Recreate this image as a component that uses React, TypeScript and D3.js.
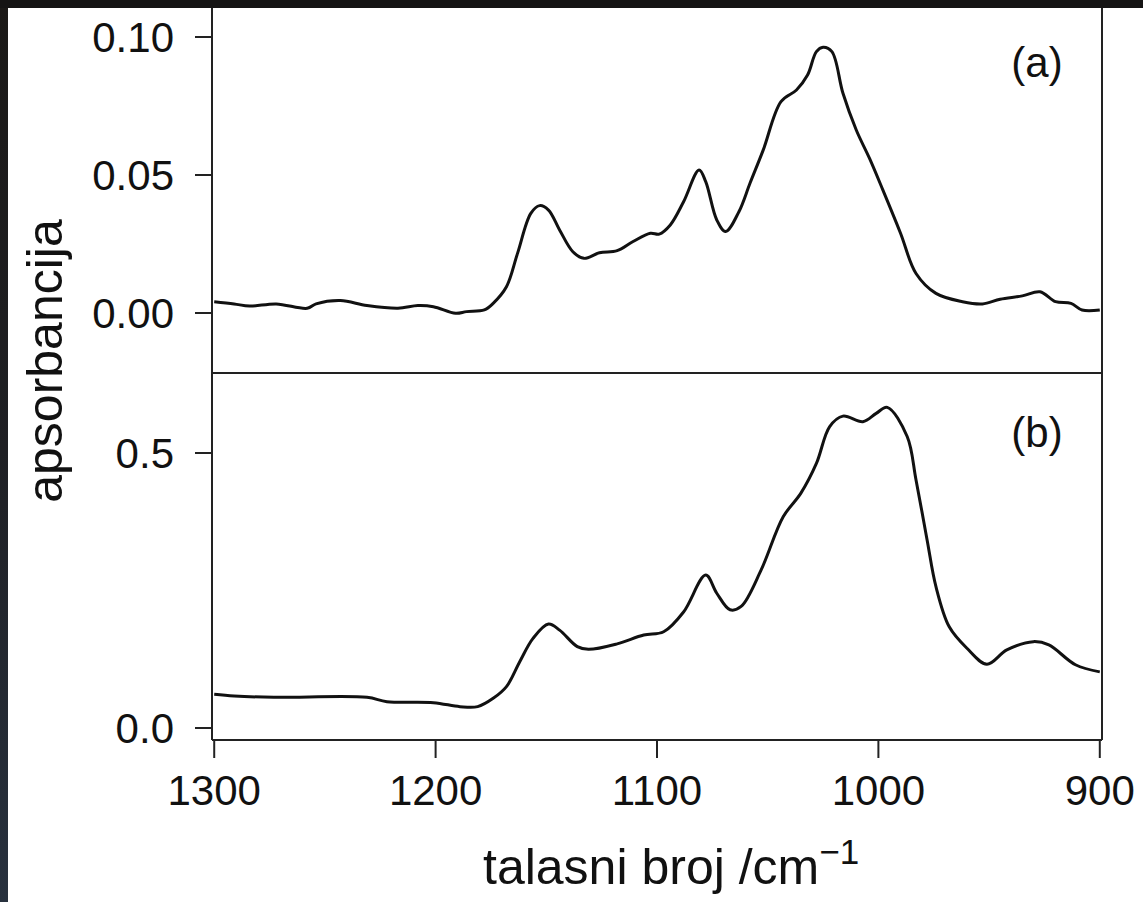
import React from "react";
import * as d3 from "d3";

const waveA = [1300, 1291, 1284, 1272, 1258, 1254, 1243, 1231, 1217, 1208, 1201, 1191, 1186, 1178, 1174, 1168, 1163, 1157, 1153, 1149, 1144, 1138, 1133, 1126, 1118, 1111, 1103, 1099, 1094, 1088, 1081, 1078, 1073, 1069, 1063, 1058, 1052, 1044, 1037, 1032, 1028, 1025, 1021, 1016, 1010, 1004, 998, 990, 983, 974, 962, 953, 945, 935, 927, 920, 913, 908, 900];
const absA = [0.0041, 0.0033, 0.0025, 0.0033, 0.0017, 0.0033, 0.0045, 0.0027, 0.0017, 0.0027, 0.0023, -0.0001, 0.0005, 0.0011, 0.0035, 0.0095, 0.0216, 0.0361, 0.0389, 0.0373, 0.0301, 0.0222, 0.0198, 0.0218, 0.0226, 0.0258, 0.0289, 0.0286, 0.0319, 0.0403, 0.0518, 0.0476, 0.0337, 0.0295, 0.0367, 0.047, 0.0591, 0.0766, 0.0808, 0.0862, 0.0947, 0.0963, 0.0947, 0.0796, 0.0663, 0.056, 0.0446, 0.0289, 0.0143, 0.0071, 0.0041, 0.0033, 0.005, 0.0062, 0.0077, 0.0041, 0.0035, 0.0011, 0.0011];

const waveB = [1300, 1291, 1273, 1231, 1222, 1201, 1189, 1181, 1174, 1168, 1162, 1156, 1149, 1144, 1136, 1131, 1118, 1106, 1097, 1088, 1078, 1073, 1067, 1062, 1053, 1043, 1035, 1028, 1022, 1016, 1007, 1001, 996, 987, 983, 978, 974, 968, 960, 951, 942, 930, 923, 911, 900];
const absB = [0.0612, 0.0582, 0.0558, 0.0558, 0.0479, 0.0461, 0.0388, 0.0388, 0.0539, 0.0752, 0.1206, 0.163, 0.189, 0.178, 0.148, 0.143, 0.153, 0.169, 0.175, 0.211, 0.278, 0.245, 0.215, 0.221, 0.287, 0.384, 0.427, 0.481, 0.548, 0.567, 0.557, 0.572, 0.583, 0.53, 0.451, 0.342, 0.257, 0.184, 0.145, 0.116, 0.142, 0.157, 0.151, 0.115, 0.102];

const xTicks = [1300, 1200, 1100, 1000, 900];
const yTicksA = [0.0, 0.05, 0.1];
const yTicksB = [0.0, 0.5];
const xTitle = "talasni broj /cm";
const yTitle = "apsorbancija";
const panelLabels = ["(a)", "(b)"];

const W = 1143;
const H = 902;
const L = 212;
const R = 1102;
const TOP = 0;
const MID = 373;
const BOT = 740;
const FONT = "'Liberation Sans', Arial, Helvetica, sans-serif";

export default function App() {
  const x = d3.scaleLinear().domain([1301, 899]).range([L, R]);
  const yA = d3.scaleLinear().domain([0, 0.1]).range([313, 37]);
  const yB = d3.scaleLinear().domain([0, 0.5]).range([728, 453]);

  const lineA = d3
    .line<number>()
    .x((_, i) => x(waveA[i]))
    .y((d) => yA(d))
    .curve(d3.curveCatmullRom.alpha(0.5));
  const lineB = d3
    .line<number>()
    .x((_, i) => x(waveB[i]))
    .y((d) => yB(d))
    .curve(d3.curveCatmullRom.alpha(0.5));

  const axisColor = "#222";

  return (
    <svg
      width={W}
      height={H}
      style={{ position: "absolute", left: 0, top: 0, background: "#fff" }}
      fontFamily={FONT}
    >
      <defs>
        <linearGradient id="leftband" x1="0" y1="0" x2="0" y2="1">
          <stop offset="0" stopColor="#1b1917" />
          <stop offset="0.5" stopColor="#1f2024" />
          <stop offset="1" stopColor="#28313e" />
        </linearGradient>
      </defs>
      <rect x={0} y={0} width={W} height={H} fill="#fff" />

      {/* curves */}
      <path d={lineA(absA) || ""} fill="none" stroke="#111" strokeWidth={3} strokeLinejoin="round" />
      <path d={lineB(absB) || ""} fill="none" stroke="#111" strokeWidth={3} strokeLinejoin="round" />

      {/* frame */}
      <line x1={L} x2={L} y1={TOP} y2={BOT} stroke={axisColor} strokeWidth={2} />
      <line x1={R} x2={R} y1={TOP} y2={BOT} stroke={axisColor} strokeWidth={2} />
      <line x1={L} x2={R} y1={MID} y2={MID} stroke={axisColor} strokeWidth={2} />
      <line x1={L} x2={R} y1={BOT} y2={BOT} stroke={axisColor} strokeWidth={2} />

      {/* y ticks A */}
      {yTicksA.map((t) => (
        <g key={"a" + t}>
          <line x1={195} x2={L} y1={yA(t)} y2={yA(t)} stroke={axisColor} strokeWidth={2} />
          <text x={174} y={yA(t)} dy="0.36em" textAnchor="end" fontSize={42} fill="#111">
            {t.toFixed(2)}
          </text>
        </g>
      ))}
      {/* y ticks B */}
      {yTicksB.map((t) => (
        <g key={"b" + t}>
          <line x1={195} x2={L} y1={yB(t)} y2={yB(t)} stroke={axisColor} strokeWidth={2} />
          <text x={174} y={yB(t)} dy="0.36em" textAnchor="end" fontSize={42} fill="#111">
            {t.toFixed(1)}
          </text>
        </g>
      ))}
      {/* x ticks */}
      {xTicks.map((t) => (
        <g key={"x" + t}>
          <line x1={x(t)} x2={x(t)} y1={BOT} y2={758} stroke={axisColor} strokeWidth={2} />
          <text x={x(t)} y={805} textAnchor="middle" fontSize={42} fill="#111">
            {t}
          </text>
        </g>
      ))}

      {/* panel labels */}
      <text x={1037} y={77} textAnchor="middle" fontSize={42} fill="#111">
        {panelLabels[0]}
      </text>
      <text x={1037} y={447} textAnchor="middle" fontSize={42} fill="#111">
        {panelLabels[1]}
      </text>

      {/* axis titles */}
      <text x={483} y={884} fontSize={50} fill="#111">
        {xTitle}
        <tspan fontSize={35} dy={-20}>−1</tspan>
      </text>
      <text
        transform={`translate(62, 361) rotate(-90)`}
        textAnchor="middle"
        fontSize={50}
        fill="#111"
      >
        {yTitle}
      </text>

      {/* photo border bands */}
      <rect x={0} y={0} width={8} height={H} fill="url(#leftband)" />
      <rect x={0} y={0} width={W} height={8} fill="#151414" />
    </svg>
  );
}
